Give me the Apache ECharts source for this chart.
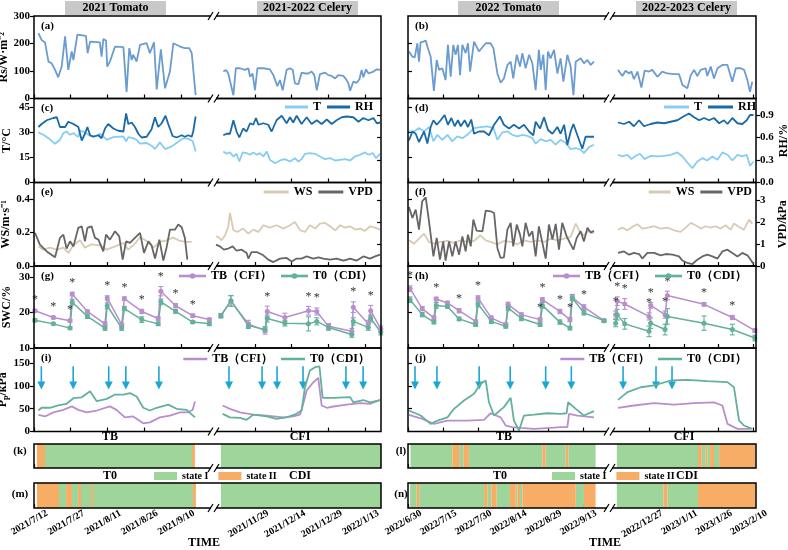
<!DOCTYPE html>
<html lang="en">
<head>
<meta charset="UTF-8">
<title>Tomato / celery: climate, SWC and Pp</title>
<style>html,body{margin:0;padding:0;background:#fff}#main{width:788px;height:550px}</style>
</head>
<body>
<div id="main"></div>
<script src="https://cdn.jsdelivr.net/npm/echarts@6/dist/echarts.min.js"></script>
<script>
// x values are days: left column counts from 2021/7/12, right column from 2022/6/30

// ---- Rs ----
var rs21Tom = [[1.8,238],[3.1,213],[4.5,204],[5.9,134],[7.2,128],[8.6,104],[9.9,77],[11.3,116],[12.7,226],[14,104],[15.4,171],[16.1,140],[17.7,232],[21.2,228],[21.9,165],[22.9,207],[26.9,204],[27.6,152],[28.3,216],[29.4,211],[29.9,116],[31,134],[33.1,189],[36.5,187],[37.8,24],[38.9,183],[39.9,140],[40.5,159],[41.9,134],[43.3,195],[46,201],[47.3,165],[49,204],[50.1,33],[51.8,179],[53.5,37],[55.5,98],[56.9,201],[59.6,189],[61.6,183],[63.4,183],[64.4,165],[65,165],[66,12]];
var rs21Cel = [[127.1,98],[128.2,104],[129.1,91],[129.8,98],[131.2,12],[132.2,110],[133.9,110],[135.9,104],[137.3,110],[138,79],[139,91],[140,30],[141,110],[143.4,110],[146.1,106],[147.5,85],[149.1,45],[150.2,67],[151.3,30],[152.9,104],[154.3,110],[155.4,104],[156.3,55],[157.7,52],[159,94],[160.4,91],[161.8,91],[163.1,98],[164.2,85],[165.2,30],[166.5,89],[168.6,94],[169.9,85],[171.3,82],[172.7,73],[174,85],[176.1,82],[177.4,67],[178.1,55],[178.8,28],[180.1,61],[181.5,57],[182.6,70],[183.5,104],[184.2,77],[185.3,106],[186.3,91],[188.3,98],[189.7,106],[191,104]];
var rs22Tom = [[0.4,171],[1.9,152],[2.9,150],[4,201],[4.7,134],[5.4,204],[6.6,207],[7.6,211],[8.3,189],[9.7,152],[11.1,28],[12.3,140],[13.3,104],[14,98],[14.7,110],[16.1,67],[17.1,195],[18.3,79],[19.4,195],[20.4,159],[21.4,195],[22.3,85],[23.3,195],[24.7,165],[25.7,201],[26.6,98],[28.3,207],[30.4,171],[33.3,201],[35.4,201],[36.6,183],[38.3,91],[39.7,57],[41.1,73],[42.6,122],[44,134],[45.1,73],[46.6,159],[48,116],[49,165],[50.4,110],[51.9,159],[53.3,128],[54.7,30],[56.1,177],[56.9,104],[58,159],[59,30],[60,171],[61.1,146],[62.6,177],[64,91],[65.4,146],[66.6,61],[68.3,159],[69.7,116],[70.9,12],[71.9,134],[74,146],[75.4,128],[76.9,140],[78.3,122],[79.7,134]];
var rs22Cel = [[166.6,104],[168.5,82],[169.9,101],[171.4,91],[172.4,98],[173.5,70],[175,98],[176.7,40],[178.1,101],[180,98],[181.4,104],[183.6,79],[185.7,98],[187.9,91],[190.8,89],[192.9,89],[194.4,49],[196.5,37],[198,85],[199.4,104],[200.8,82],[202.3,104],[204.4,110],[205.1,82],[206.6,116],[208,73],[209.5,110],[211.6,122],[213.8,122],[215.9,61],[217.4,110],[219.5,110],[221,104],[222.4,67],[223.5,24],[224.5,61]];

// ---- T and RH ----
var t21Tom = [[1.8,29.8],[3.8,28.4],[5.9,26.4],[8.6,23.1],[10.6,25.4],[12,29.4],[13.3,30.4],[14.7,28.4],[16.1,29.4],[18.1,27],[18.8,31],[20.8,29.8],[22.9,27.8],[25.6,27.8],[26.9,29],[28.3,27.4],[29.7,25.4],[32.4,27],[36.5,27.4],[37.6,24.5],[38.5,27],[40.5,26.4],[41.9,25.4],[43.3,23.1],[46,23.5],[48,21.9],[49.4,19.9],[51.4,23.9],[53.5,19.9],[56.2,21.5],[58.2,23.5],[60.3,25.8],[61.6,26.4],[63.4,25.8],[64.8,24.5],[66,18.5]];
var rh21Tom = [[1.8,.74],[3.1,.78],[5.2,.83],[7.9,.86],[9.3,.87],[10.6,.74],[12.7,.74],[14,.81],[16.1,.78],[18.1,.74],[19.5,.56],[20.8,.65],[21.8,.74],[22.9,.63],[24.2,.61],[26.3,.63],[27.6,.59],[29,.72],[30.3,.78],[32.4,.72],[34.4,.69],[36.5,.68],[37.6,.92],[38.5,.78],[39.9,.8],[41.2,.74],[42.6,.65],[43.9,.6],[46,.61],[48,.71],[49.4,.87],[50.7,.74],[52.1,.79],[53.7,.89],[54.8,.78],[56.6,.62],[58.2,.6],[60.3,.63],[61.6,.61],[63,.63],[64.4,.61],[65,.68],[66,.88]];
var t21Cel = [[127.1,18.5],[128.4,17.1],[129.8,17.9],[131.2,15.5],[132.5,17.1],[133.6,12.5],[135,17.9],[136.6,17.5],[138,16.5],[139.3,17.9],[140.7,16.5],[142,17.5],[143.4,15.5],[144.8,18.5],[146.1,13.5],[148.2,11.5],[150.2,13.1],[152.2,13.9],[154.3,12.5],[156.3,14.5],[157.7,12.5],[159,13.9],[160.4,17.1],[162.4,17.5],[164.5,17.1],[166.5,15.5],[168.6,13.9],[170.6,14.5],[172.7,13.1],[174.7,13.5],[176.7,13.9],[178.8,13.1],[180.8,15.5],[182.9,16.5],[184.9,17.9],[186.3,16.5],[188,17.5],[189.4,14.5],[191,17.1]];
var rh21Cel = [[127.1,.63],[128.4,.65],[129.8,.65],[131.2,.83],[132.5,.68],[133.6,.6],[135.2,.72],[136.6,.68],[138,.79],[139.3,.77],[140.4,.86],[141.4,.77],[143.4,.79],[145.4,.77],[146.8,.68],[148.8,.83],[150.9,.89],[152.9,.79],[154.3,.87],[155.6,.8],[157,.89],[159,.78],[161.1,.87],[163.1,.78],[165.2,.83],[167.2,.78],[169.3,.84],[171.3,.78],[173.3,.83],[175.4,.87],[177.4,.88],[180.1,.87],[182.2,.81],[184.2,.86],[186.3,.83],[188.3,.86],[189.7,.79],[191,.8]];
var t22Tom = [[0.4,30.4],[2.6,30.4],[4.7,32.4],[6.9,30.4],[9,33],[10.9,24.5],[12.6,28.4],[14.7,25.4],[16.9,28.4],[19,24.5],[21.1,27.4],[23.3,26.4],[25.4,28.4],[26.9,30.4],[28.3,32.4],[31.1,33],[34,33.4],[36.6,32.4],[38.3,25.4],[40.4,29.8],[42.6,30.4],[44.7,28.4],[46.9,27.4],[49,28.4],[51.1,27.8],[53.3,26.4],[54.7,23.1],[56.9,25.8],[59,24.5],[61.1,25.4],[63.3,22.5],[65.4,25.4],[67.6,23.5],[69.7,19.9],[71.9,20.5],[74,19.5],[75.4,17.5],[77.6,21.1],[79.7,22.5]];
var rh22Tom = [[0.4,.56],[1.9,.68],[3.3,.65],[4.7,.54],[6.9,.68],[8.3,.52],[9.7,.74],[10.9,.83],[12.3,.77],[14,.83],[15.7,.9],[17.1,.77],[18.6,.86],[20,.75],[21.4,.83],[22.6,.75],[24.3,.83],[25.7,.74],[27.1,.84],[28.3,.65],[30.4,.68],[32.6,.68],[34.7,.63],[36.9,.77],[39.4,.88],[41.1,.77],[43.3,.72],[45.4,.77],[47.6,.72],[49.7,.77],[51.9,.68],[53.7,.63],[54.7,.81],[56.6,.72],[58.3,.87],[60,.7],[61.9,.65],[64,.74],[65.4,.65],[66.9,.77],[68.3,.5],[69.7,.68],[70.9,.78],[72.6,.63],[74.7,.45],[76.1,.61],[78.3,.61],[79.7,.61]];
var t22Cel = [[166.6,16.5],[168.5,15.5],[170.7,16.5],[172.4,13.9],[174.3,15.9],[176.1,17.1],[178.1,13.9],[180.7,15.9],[183.6,15.5],[186.5,15.9],[189.3,16.5],[192.2,17.9],[194.4,15.5],[196.5,11.9],[198.7,8.5],[200.8,12.5],[203,14.5],[205.1,13.1],[207.3,15.5],[209.5,13.5],[211.6,17.9],[213.8,16.5],[215.9,13.1],[218.1,16.5],[220.2,15.5],[222.1,16.5],[223.5,9.9],[225,12.5]];
var rh22Cel = [[166.6,.8],[169.2,.78],[171.4,.81],[173.5,.75],[175.7,.83],[177.8,.75],[180.7,.78],[183.6,.8],[186.5,.79],[189.3,.81],[192.2,.83],[194.8,.88],[197.2,.92],[199.4,.87],[201.6,.83],[203.7,.86],[205.9,.83],[208,.86],[210.2,.79],[212.3,.83],[213.8,.78],[215.9,.86],[218.1,.79],[220.2,.78],[222.1,.83],[223.5,.9],[225,.9]];

// ---- WS and VPD ----
var ws21Tom = [[1.8,.118],[3.8,.098],[6.5,.11],[9.3,.098],[12,.11],[14,.078],[16.1,.124],[18.8,.154],[20.8,.11],[23.5,.13],[26.9,.124],[29.7,.098],[33.1,.118],[36.5,.138],[38.5,.098],[41.2,.134],[43.3,.174],[46,.15],[48.7,.11],[51.4,.144],[54.1,.154],[56.9,.17],[59.6,.15],[62.3,.144],[64.4,.144]];
var vpd21Tom = [[0.4,1.52],[2.4,.98],[5.2,.67],[8.6,.4],[10.6,1.29],[12,1.44],[13.3,.8],[14.7,1.13],[16.1,.9],[18.1,1.75],[19.5,1.82],[20.8,1.13],[21.8,1.75],[23.5,1.82],[24.9,1.29],[26.3,1.21],[28.3,.67],[29.4,1.44],[31,1.21],[33.1,1.59],[34.8,1.36],[36.2,.29],[37.6,1.13],[39.2,1.06],[41.2,1.29],[43.3,1.52],[44.9,.6],[46.7,1.13],[48,.95],[49.4,.34],[51.2,1.21],[52.8,.25],[54.1,.83],[55.5,1.67],[57.6,1.67],[58.9,1.9],[60.3,1.78],[61.6,1.29],[62.6,.29]];
var ws21Cel = [[124.1,.178],[125,.174],[126.4,.154],[127.8,.184],[129.1,.234],[129.8,.318],[131.2,.214],[132.8,.204],[135.2,.224],[137.3,.194],[139.3,.218],[141.4,.204],[143.4,.244],[146.1,.23],[148.8,.244],[151.6,.224],[154.3,.244],[156.3,.264],[158.4,.214],[160.4,.204],[162.4,.244],[164.5,.224],[166.5,.254],[168.6,.258],[170.6,.238],[172.7,.214],[174.7,.244],[176.7,.23],[178.8,.238],[180.8,.218],[182.9,.224],[184.9,.21],[186.9,.238],[189,.23],[191,.218]];
var vpd21Cel = [[124.1,.98],[125.7,.9],[127.3,.75],[129.1,.8],[130.9,.9],[132.5,.7],[134.6,.75],[136.6,.6],[137.3,.34],[138.6,.64],[140.7,.64],[143.4,.49],[145.4,.29],[147.5,.18],[150.2,.34],[152.9,.37],[155,.21],[157,.34],[159,.34],[161.1,.44],[163.8,.34],[165.9,.4],[167.9,.34],[170.6,.29],[173.3,.34],[176.1,.25],[178.8,.34],[181.5,.25],[184.2,.44],[186.9,.34],[189,.44],[191,.52]];
var ws22Tom = [[0.4,.154],[2.6,.134],[4.7,.164],[6.9,.194],[9,.144],[11.1,.134],[14,.144],[16.9,.15],[19.7,.138],[22.6,.154],[25.4,.144],[28.3,.15],[31.1,.184],[33.3,.154],[35.4,.144],[38.3,.13],[41.1,.15],[44,.144],[46.9,.13],[49.7,.154],[52.6,.144],[55.4,.154],[58.3,.144],[61.1,.164],[64,.154],[66.9,.164],[69.7,.174],[71.9,.254],[73.3,.214],[75.4,.184],[77.6,.214],[79.7,.194]];
var vpd22Tom = [[0.4,2.7],[1.9,2.2],[3.3,2.59],[4.7,1.67],[6.1,2.97],[7.6,3.15],[9,2.05],[10.9,.44],[12.3,1.29],[13.7,.29],[15.1,1.13],[16.1,.25],[17.6,1.13],[19,.44],[20.4,1.13],[21.9,.52],[23.3,1.36],[24.7,.67],[25.7,1.44],[26.9,.9],[28,2.13],[29.4,1.62],[31.9,1.59],[33.3,2.54],[35.4,2.51],[36.9,2.43],[38.3,.83],[39.7,.37],[41.1,.4],[42.6,1.67],[44,1.98],[45.1,.9],[46.6,1.9],[48,1.44],[49,.9],[50.4,1.98],[51.9,1.36],[53.3,1.59],[54.7,.44],[56.1,1.82],[57.6,1.06],[59,.34],[60.4,1.9],[61.9,1.21],[63.3,1.93],[64.7,.75],[66.1,1.98],[68,1.36],[69.4,1.06],[70.9,.75],[72.3,1.29],[74,1.59],[75.4,1.13],[76.9,1.75],[78.3,1.52],[79.7,1.62]];
var ws22Cel = [[166.6,.218],[168.5,.23],[170.7,.214],[172.8,.234],[175,.25],[177.1,.224],[179.3,.23],[182.2,.238],[185,.224],[187.9,.23],[190.8,.214],[193.6,.204],[195.8,.23],[198,.258],[200.1,.244],[202.3,.224],[204.4,.238],[206.6,.23],[208.7,.238],[210.9,.224],[213,.244],[215.2,.218],[216.6,.254],[218.8,.234],[220.9,.218],[223.1,.278],[224.5,.254]];
var vpd22Cel = [[166.6,.6],[169.2,.67],[171.4,.52],[173.5,.6],[175.7,.55],[177.1,.34],[179.3,.6],[182.2,.6],[185,.49],[187.2,.55],[190.1,.52],[192.9,.44],[194.4,.25],[196.5,.14],[198.7,.09],[200.8,.29],[203,.44],[205.1,.52],[207.3,.44],[209.5,.34],[211.6,.67],[213.8,.75],[215.9,.6],[218.1,.44],[220.2,.6],[222.4,.49],[223.8,.29],[225,.09]];

// ---- SWC (mean, error, significance star) ----
var swcDay21Tom = [0.4,7.9,14.7,15.6,21.8,29,29.9,35.8,36.9,44,50.7,51.8,57.8,64.8,71.6];
var swcTB21Tom = [20.5,18.6,17.7,25.2,20.3,16.8,24.1,16.6,23.9,20.3,18.3,26,21.9,19.1,18];
var errTB21Tom = [0.3,0.4,0.4,0.5,0.4,0.6,0.6,0.4,0.5,0.6,0.5,1.3,0.6,0.5,0.4];
var swcT021Tom = [17.8,16.8,15.6,22.9,18.9,15.6,21.9,15.6,21.1,18,16.8,23,20.3,17.3,16.8];
var errT021Tom = [0.4,0.3,0.4,0.8,0.6,0.6,0.8,0.6,0.6,0.8,0.5,0.8,0.5,0.4,0.5];
var star21Tom = [1,1,1,1,0,0,1,0,1,1,0,1,1,1,0];
var swcDay21Cel = [126.1,130.2,137.3,144.1,145,152.2,161.8,165.2,170,179.5,180.1,186.2,187.2,191.3];
var swcTB21Cel = [19.1,23.2,16.8,14.9,20.3,18.6,20.5,20.3,16.1,14.7,21.5,16.8,20.5,15.4];
var errTB21Cel = [0.6,1.5,1,1,1.5,1.2,1.2,1,0.8,0.8,1.5,1,1.5,0.8];
var swcT021Cel = [19.1,23.3,16.3,15.2,18.3,17,16.8,17.5,15.8,13.8,17.5,15.8,18.3,14.5];
var errT021Cel = [0.6,1.5,0.8,0.8,1,0.8,2,1,0.8,0.8,1,0.8,1,0.8];
var star21Cel = [0,0,0,0,1,0,1,1,0,0,1,0,1,0];
var swcDay22Tom = [0.9,6.1,11.1,12.1,16.9,21.9,29,30,35.7,41.9,42.9,48.6,56.6,57.6,65.1,69.4,70.4,75.4,84];
var swcTB22Tom = [26.7,21.1,18.5,23.8,22.7,20.5,17.5,24.1,18.5,16.6,22.3,19.4,18,23.6,20.3,18,24.3,21.5,17.7];
var errTB22Tom = [0.8,0.6,0.5,0.5,0.5,0.6,0.4,0.6,0.5,0.5,0.6,0.5,0.5,0.6,0.6,0.6,0.8,0.7,0.4];
var swcT022Tom = [23.6,19.4,17.3,22,21.7,18.2,16.6,22.4,17.5,16.1,21.3,18.3,16.6,22,17.3,15.6,24.1,19.9,17.7];
var errT022Tom = [0.8,0.6,0.5,0.8,0.5,0.5,0.5,0.8,0.6,0.5,0.8,0.6,0.5,0.8,0.6,0.5,0.8,0.6,0.4];
var star22Tom = [1,0,0,1,0,1,0,1,0,0,0,0,1,1,1,1,0,1,0];
var swcDay22Cel = [165.6,166.3,169.5,180,180.7,186.9,187.9,203.7,215.9,225.6];
var swcTB22Cel = [19.4,23.2,22.4,18.9,22,19.4,24.8,22.3,18.6,14.9];
var errTB22Cel = [1,1.2,1.5,1,0.8,1,1.2,0.5,0.6,0.5];
var swcT022Cel = [17,19.4,16.8,14.7,17,15.2,18.9,17,15.2,12.8];
var errT022Cel = [1,1.5,1.5,1.5,1.5,1.5,2.2,2,1.5,0.8];
var star22Cel = [1,1,1,1,1,1,1,1,1,0];

// ---- Pp ----
var pbTB21Tom = [[1.8,36.5],[4.5,33],[7.9,42],[12,47.5],[15.4,55],[18.1,47.5],[21.5,42],[25.6,46],[31,55],[33.7,47.5],[37.1,31],[40.5,33],[44.6,18],[47.3,20],[51.4,31],[55.5,35],[59.6,42],[63,42],[64.8,47.5],[65.7,66]];
var pbT021Tom = [[1.8,46],[3.1,52],[6.5,52],[9.9,57],[13.3,60.7],[16.1,73],[19.5,75],[22.9,88],[25.6,66.5],[29.7,71.6],[33.1,81],[36.5,81],[39.2,84],[41.9,76.7],[44.6,52],[47.3,46],[50.1,52],[54.8,59],[58.2,49.7],[62.3,47.5],[65.7,31]];
var pbTB21Cel = [[126.8,57],[129.8,49.7],[133.9,42],[139.3,37],[144.8,35],[151.6,31],[155.6,33],[158.4,37],[159.7,60.7],[161.1,90],[163.8,108],[165.8,117.7],[167.2,57],[169.3,52],[172,54.8],[177.4,59],[182.9,62],[186.9,60.7],[191,69]];
var pbT021Cel = [[126.8,38.7],[129.8,31],[133.9,30],[136.6,25.6],[139.3,37],[144.8,33],[148.8,27.8],[152.9,31],[157,38.7],[159,46],[160.4,97],[162.4,133.8],[164.5,141],[166.3,142.5],[167.6,73.8],[172,73.8],[178.8,75.3],[180.1,64],[184.2,69],[186.9,64],[191,69]];
var pbTB22Tom = [[0.4,36.5],[5.4,29],[11.1,16.8],[16.9,24],[25.4,24],[32.6,25.6],[35.4,40],[39.7,31],[41.9,13],[44.7,9.5],[48.3,8],[54,5.8],[61.2,8],[65.4,9.5],[68.3,9.5],[69,38.7],[72.6,35],[79.7,31]];
var pbT022Tom = [[0.4,46],[5.4,35],[9.7,16.8],[12.6,24],[16.9,31],[19.7,49.7],[24,68],[28.3,82.6],[31.1,104.5],[33.3,111.8],[34.7,64],[36.9,35],[41.1,53.4],[44,73.8],[45.4,24],[47.6,2.2],[49.7,35],[54,37],[59.7,40],[65.4,38.7],[68,40],[68.6,64],[71.9,49.7],[75.4,35],[79.7,44.6]];
var pbTB22Cel = [[166.6,52],[173.5,57],[182.2,62],[190.8,59],[199.4,62],[208,64],[211.6,57],[213.8,16.8],[218.1,5.8],[223.8,5.8]];
var pbT022Cel = [[166.6,69.4],[170.7,86.3],[176.4,97],[182.2,100.9],[189.3,111.8],[196.5,113.3],[205.1,110.4],[213.8,108.2],[216.6,97],[218.8,24],[220.9,13.2],[224.5,5.8]];

// irrigation days (arrows)
var irr21 = [3,16,30.5,37.5,51,129.4,142.9,149,159.6,177.1,184.1];
var irr22 = [3,12.4,30.5,43.8,59,70,168.8,183,189.9];

// ---- states [start, end] ----
var stI_TB21 = [[4.5,64.5],[126.1,191.4]];
var stII_TB21 = [[1.2,4.5],[64.5,65.7]];
var stI_T021 = [[10.2,13.1],[15.5,18],[19.2,23.3],[24.1,64.9],[126.1,191.4]];
var stII_T021 = [[1.2,10.2],[13.1,15.5],[18,19.2],[23.3,24.1],[64.9,66.1]];
var stI_TB22 = [[1.1,19],[21.9,23.7],[26.1,57.6],[59,67.6],[68.7,80.4],[166.1,201.1],[202.7,204.4],[205.1,206.3],[208,210.2]];
var stII_TB22 = [[19,21.9],[23.7,26.1],[57.6,59],[67.6,68.7],[201.1,202.7],[204.4,205.1],[206.3,208],[210.2,225.8]];
var stI_T022 = [[0.9,3.7],[4.8,32.6],[34,35.7],[38,43.7],[46.2,46.9],[48,49],[71.9,75.4],[166.1,186.2],[187.9,201.1]];
var stII_T022 = [[3.7,4.8],[32.6,34],[35.7,38],[43.7,46.2],[46.9,48],[49,71.9],[75.4,80.4],[186.2,187.9],[201.1,225.8]];

// ---- layout ----
var FONT = 'Liberation Serif';
var C = {rs: '#6b9ccf', t: '#86cdf3', rh: '#1a69a8', ws: '#d9cab5', vpd: '#666666', tb: '#b88fcc', t0: '#63b19a', arrow: '#1aa7d3', s1: '#9ed59b', s2: '#f8ad67'};
var cols = [
    {x0: 34, xb: 215, x1: 381, origin: [2021, 6, 12], tom: [0, 73.9], cel: [123.7, 191.4], tomTicks: [0, 15, 30, 45, 60], celTicks: [140, 155, 170, 185]},
    {x0: 408, xb: 611, x1: 756, origin: [2022, 5, 30], tom: [0, 87], cel: [163.6, 226.1], tomTicks: [0, 15, 30, 45, 60, 75], celTicks: [180, 195, 210, 225]}
];
var rows = {rs: [16, 98.5], trh: [98.5, 182.5], wv: [182.5, 266], swc: [266, 348], pb: [348, 431.5], k: [444, 468], m: [483, 508]};
var rowKeys = ['rs', 'trh', 'wv', 'swc', 'pb', 'k', 'm'];
var yDefs = {
    rs: [{min: 0, max: 300, vals: [0, 100, 200, 300], name: 'Rs/W·m⁻²'}],
    trh: [{min: 0, max: 50, vals: [0, 15, 30, 45], name: 'T/°C'}, {min: 0, max: 1.12, vals: [0, 0.3, 0.6, 0.9], dec: 1, name: 'RH/%'}],
    wv: [{min: 0, max: 0.5, vals: [0, 0.2, 0.4], dec: 1, name: 'WS/m·s⁻¹'}, {min: 0, max: 3.83, vals: [0, 1, 2, 3], name: 'VPD/kPa'}],
    swc: [{min: 10, max: 33.1, vals: [10, 20, 30], name: 'SWC/%'}],
    pb: [{min: 0, max: 183, vals: [0, 50, 100, 150], name: '{a|P}{s|p}{a|/kPa}'}],
    k: [{min: 0, max: 1}],
    m: [{min: 0, max: 1}]
};
var txt = {fontFamily: FONT, fontWeight: 'bold', color: '#000'};

function dateLabel(o) {
    return function (v) {
        var d = new Date(o[0], o[1], o[2] + Math.round(v));
        return d.getFullYear() + '/' + (d.getMonth() + 1) + '/' + d.getDate();
    };
}

var grids = [], xAxes = [], yAxes = [], series = [], graphics = [], legends = [];
var AX = [{}, {}];

function makeX(gi, c, seg, labels) {
    var ticks = seg === 'tom' ? c.tomTicks : c.celTicks;
    return {
        type: 'value', gridIndex: gi, min: c[seg][0], max: c[seg][1],
        axisLine: {show: false}, splitLine: {show: false},
        axisTick: {show: true, inside: true, length: 4, customValues: ticks, lineStyle: {color: '#000', width: 1.2}},
        axisLabel: Object.assign({show: labels, customValues: ticks, rotate: 30, margin: 12, padding: [0, -15, 0, 0],
            fontSize: 10, formatter: dateLabel(c.origin)}, txt)
    };
}

function makeY(gi, def, side, mode) {
    var inner = (def.vals || []).filter(function (v) { return v > def.min && v < def.max; });
    return {
        type: 'value', gridIndex: gi, position: side, min: def.min, max: def.max,
        show: mode !== 'none',
        name: mode === 'label' ? def.name : '', nameLocation: 'middle', nameRotate: 90, nameGap: 21,
        nameTextStyle: Object.assign({fontSize: 12, rich: {
            a: {fontFamily: FONT, fontWeight: 'bold', fontSize: 12},
            s: {fontFamily: FONT, fontWeight: 'bold', fontSize: 8, padding: [5, 0, 0, 0]}
        }}, txt),
        axisLine: {show: false}, splitLine: {show: false},
        axisTick: {show: true, inside: mode === 'inner', length: 4, customValues: mode === 'label' ? def.vals : inner, lineStyle: {color: '#000', width: 1.2}},
        axisLabel: Object.assign({show: mode === 'label', customValues: def.vals, margin: 4, fontSize: 11,
            formatter: function (v) { return def.dec ? v.toFixed(def.dec) : String(v); }}, txt)
    };
}

cols.forEach(function (c, ci) {
    rowKeys.forEach(function (rk) {
        var r = rows[rk];
        AX[ci][rk] = {};
        ['tom', 'cel'].forEach(function (seg) {
            var gi = grids.length;
            var l = seg === 'tom' ? c.x0 : c.xb, rr = seg === 'tom' ? c.xb : c.x1;
            grids.push({left: l, top: r[0], width: rr - l, height: r[1] - r[0], containLabel: false, outerBoundsMode: 'none'});
            var xi = xAxes.length;
            xAxes.push(makeX(gi, c, seg, rk === 'm'));
            var yis = [];
            yDefs[rk].forEach(function (def, k) {
                var side = k === 0 ? 'left' : 'right', mode;
                if (!def.vals) mode = 'none';
                else if (side === 'left') mode = seg === 'tom' ? (ci === 0 ? 'label' : 'inner') : 'none';
                else mode = seg === 'cel' ? (ci === 1 ? 'label' : 'inner') : 'none';
                yis.push(yAxes.length);
                yAxes.push(makeY(gi, def, side, mode));
            });
            AX[ci][rk][seg] = {x: xi, y: yis};
        });
    });
});

function line(name, ci, rk, seg, yi, data, color, w) {
    var a = AX[ci][rk][seg];
    series.push({type: 'line', name: name, xAxisIndex: a.x, yAxisIndex: a.y[yi], data: data, symbol: 'none',
        lineStyle: {color: color, width: w || 1.7}, itemStyle: {color: color}, animation: false});
}

function errItem(params, api) {
    var x = api.value(0), v = api.value(1), e = api.value(2);
    var p1 = api.coord([x, v - e]), p2 = api.coord([x, v + e]);
    var st = {stroke: api.visual('color'), lineWidth: 1.1};
    return {type: 'group', children: [
        {type: 'line', shape: {x1: p1[0], y1: p1[1], x2: p2[0], y2: p2[1]}, style: st},
        {type: 'line', shape: {x1: p1[0] - 2.5, y1: p1[1], x2: p1[0] + 2.5, y2: p1[1]}, style: st},
        {type: 'line', shape: {x1: p2[0] - 2.5, y1: p2[1], x2: p2[0] + 2.5, y2: p2[1]}, style: st}
    ]};
}

function swc(name, ci, seg, days, vals, errs, stars, color) {
    var a = AX[ci].swc[seg];
    series.push({type: 'custom', name: name + ' err', xAxisIndex: a.x, yAxisIndex: a.y[0], renderItem: errItem,
        itemStyle: {color: color}, data: days.map(function (d, i) { return [d, vals[i], errs[i]]; }), animation: false, z: 1});
    series.push({type: 'line', name: name, xAxisIndex: a.x, yAxisIndex: a.y[0], symbol: 'circle', symbolSize: 5,
        lineStyle: {color: color, width: 1.5}, itemStyle: {color: color}, animation: false, z: 3,
        label: {show: false, formatter: '*', position: 'top', color: '#333', fontSize: 12, fontFamily: FONT},
        data: days.map(function (d, i) {
            return {value: [d, vals[i]], label: {show: !!(stars && stars[i]), distance: 1 + errs[i] * 3.6}};
        })});
}

function arrowItem(params, api) {
    var x = api.value(0);
    var top = api.coord([x, 143]), tip = api.coord([x, 92]);
    var c = C.arrow;
    return {type: 'group', children: [
        {type: 'line', shape: {x1: top[0], y1: top[1], x2: tip[0], y2: tip[1] - 7}, style: {stroke: c, lineWidth: 1.6}},
        {type: 'polygon', shape: {points: [[tip[0] - 4, tip[1] - 8], [tip[0] + 4, tip[1] - 8], [tip[0], tip[1]]]}, style: {fill: c}}
    ]};
}

function stateItem(params, api) {
    var p0 = api.coord([api.value(0), 1]), p1 = api.coord([api.value(1), 0]);
    return {type: 'rect', shape: {x: p0[0], y: p0[1], width: p1[0] - p0[0], height: p1[1] - p0[1]}, style: {fill: api.visual('color')}};
}

var sets = [
    {rs: [rs21Tom, rs21Cel], t: [t21Tom, t21Cel], rh: [rh21Tom, rh21Cel], ws: [ws21Tom, ws21Cel], vpd: [vpd21Tom, vpd21Cel],
     swc: [[swcDay21Tom, swcTB21Tom, errTB21Tom, swcT021Tom, errT021Tom, star21Tom], [swcDay21Cel, swcTB21Cel, errTB21Cel, swcT021Cel, errT021Cel, star21Cel]],
     pbTB: [pbTB21Tom, pbTB21Cel], pbT0: [pbT021Tom, pbT021Cel], irr: irr21,
     k: [stI_TB21, stII_TB21], m: [stI_T021, stII_T021]},
    {rs: [rs22Tom, rs22Cel], t: [t22Tom, t22Cel], rh: [rh22Tom, rh22Cel], ws: [ws22Tom, ws22Cel], vpd: [vpd22Tom, vpd22Cel],
     swc: [[swcDay22Tom, swcTB22Tom, errTB22Tom, swcT022Tom, errT022Tom, star22Tom], [swcDay22Cel, swcTB22Cel, errTB22Cel, swcT022Cel, errT022Cel, star22Cel]],
     pbTB: [pbTB22Tom, pbTB22Cel], pbT0: [pbT022Tom, pbT022Cel], irr: irr22,
     k: [stI_TB22, stII_TB22], m: [stI_T022, stII_T022]}
];

sets.forEach(function (s, ci) {
    var c = cols[ci];
    ['tom', 'cel'].forEach(function (seg, si) {
        var inSeg = function (iv) { return seg === 'tom' ? iv[0] < 100 : iv[0] >= 100; };
        line('Rs', ci, 'rs', seg, 0, s.rs[si], C.rs, 1.8);
        line('T', ci, 'trh', seg, 0, s.t[si], C.t, 1.8);
        line('RH', ci, 'trh', seg, 1, s.rh[si], C.rh, 1.8);
        line('WS', ci, 'wv', seg, 0, s.ws[si], C.ws, 1.8);
        line('VPD', ci, 'wv', seg, 1, s.vpd[si], C.vpd, 1.8);
        var w = s.swc[si];
        swc('TB（CFI）', ci, seg, w[0], w[1], w[2], w[5], C.tb);
        swc('T0（CDI）', ci, seg, w[0], w[3], w[4], null, C.t0);
        var a = AX[ci].pb[seg];
        series.push({type: 'custom', name: 'irrigation', xAxisIndex: a.x, yAxisIndex: a.y[0], renderItem: arrowItem,
            data: s.irr.filter(function (d) { return seg === 'tom' ? d < 100 : d >= 100; }).map(function (d) { return [d]; }), animation: false});
        line('TB（CFI）', ci, 'pb', seg, 0, s.pbTB[si], C.tb, 1.8);
        line('T0（CDI）', ci, 'pb', seg, 0, s.pbT0[si], C.t0, 1.8);
        ['k', 'm'].forEach(function (rk) {
            var b = AX[ci][rk][seg];
            series.push({type: 'custom', name: 'state I', xAxisIndex: b.x, yAxisIndex: b.y[0], renderItem: stateItem,
                itemStyle: {color: C.s1}, encode: {x: [0, 1]}, data: s[rk][0].filter(inSeg), animation: false});
            series.push({type: 'custom', name: 'state II', xAxisIndex: b.x, yAxisIndex: b.y[0], renderItem: stateItem,
                itemStyle: {color: C.s2}, encode: {x: [0, 1]}, data: s[rk][1].filter(inSeg), animation: false});
        });
    });

    // frames, break marks
    rowKeys.forEach(function (rk) {
        var r = rows[rk];
        graphics.push({type: 'rect', z: 100, shape: {x: c.x0, y: r[0], width: c.x1 - c.x0, height: r[1] - r[0]},
            style: {fill: null, stroke: '#000', lineWidth: 1.5}});
    });
    [16, 98.5, 182.5, 266, 348, 431.5, 468, 508].forEach(function (yy) {
        graphics.push({type: 'rect', z: 101, shape: {x: c.xb - 4, y: yy - 2, width: 5, height: 4}, style: {fill: '#fff'}});
        graphics.push({type: 'line', z: 102, shape: {x1: c.xb - 7, y1: yy + 4, x2: c.xb - 2, y2: yy - 4}, style: {stroke: '#000', lineWidth: 1.2}});
        graphics.push({type: 'line', z: 102, shape: {x1: c.xb - 1, y1: yy + 4, x2: c.xb + 4, y2: yy - 4}, style: {stroke: '#000', lineWidth: 1.2}});
    });
});

function txtFill() { return {fontFamily: FONT, fontWeight: 'bold', fill: '#000'}; }

// column headers
[[65, '2021 Tomato'], [257, '2021-2022 Celery'], [458, '2022 Tomato'], [636, '2022-2023 Celery']].forEach(function (h) {
    graphics.push({type: 'rect', shape: {x: h[0], y: 1, width: 101, height: 14}, style: {fill: '#c8c8c8'}});
    graphics.push({type: 'text', x: h[0] + 50.5, y: 8, style: Object.assign({text: h[1], fontSize: 12, align: 'center', verticalAlign: 'middle'}, txtFill())});
});

// panel letters
var letters = [['(a)', '(c)', '(e)', '(g)', '(i)'], ['(b)', '(d)', '(f)', '(h)', '(j)']];
cols.forEach(function (c, ci) {
    ['rs', 'trh', 'wv', 'swc', 'pb'].forEach(function (rk, i) {
        graphics.push({type: 'text', z: 103, x: c.x0 + 7, y: rows[rk][0] + 10,
            style: Object.assign({text: letters[ci][i], fontSize: 11, verticalAlign: 'middle'}, txtFill())});
    });
});
[['(k)', 20, 451], ['(m)', 20, 494], ['(l)', 401, 451], ['(n)', 401, 494]].forEach(function (t) {
    graphics.push({type: 'text', x: t[1], y: t[2], style: Object.assign({text: t[0], fontSize: 11, align: 'center', verticalAlign: 'middle'}, txtFill())});
});
[['TB', 110, 437], ['CFI', 300, 437], ['T0', 110, 476], ['CDI', 300, 476],
 ['TB', 504, 437], ['CFI', 684, 437], ['T0', 500, 476], ['CDI', 687, 476],
 ['TIME', 204, 543], ['TIME', 605, 543]].forEach(function (t) {
    graphics.push({type: 'text', x: t[1], y: t[2], style: Object.assign({text: t[0], fontSize: 12, align: 'center', verticalAlign: 'middle'}, txtFill())});
});

// legends
var lgText = {fontFamily: FONT, fontWeight: 'bold', fontSize: 12, color: '#000'};
function lg(data, right, top, extra) {
    legends.push(Object.assign({data: data, right: right, top: top, itemWidth: 23, itemHeight: 3, itemGap: 6,
        selectedMode: false, textStyle: lgText, padding: 0}, extra || {}));
}
function bars(names) { return names.map(function (n) { return {name: n, icon: 'rect'}; }); }
lg(bars(['T', 'RH']), 415, 101);
lg(bars(['T', 'RH']), 32, 101, {itemWidth: 25});
lg(bars(['WS', 'VPD']), 415, 186, {itemWidth: 25});
lg(bars(['WS', 'VPD']), 36, 186, {itemWidth: 22});
lg(['TB（CFI）', 'T0（CDI）'], 415, 270, {itemWidth: 27, itemHeight: 7, itemGap: 8, lineStyle: {width: 2.6}});
lg(['TB（CFI）', 'T0（CDI）'], 41, 270, {itemWidth: 27, itemHeight: 7, itemGap: 8, lineStyle: {width: 2.6}});
lg(bars(['TB（CFI）', 'T0（CDI）']), 418, 353, {itemHeight: 2.5, itemWidth: 24, itemGap: 8});
lg(bars(['TB（CFI）', 'T0（CDI）']), 41, 353, {itemHeight: 2.5, itemWidth: 24, itemGap: 8});
var stText = {fontFamily: FONT, fontWeight: 'bold', fontSize: 10, color: '#000'};
lg(bars(['state I', 'state II']), null, 471, {left: 154, itemHeight: 8, itemGap: 10, textStyle: stText});
lg(bars(['state I', 'state II']), null, 471, {left: 552, itemHeight: 8, itemGap: 10, textStyle: stText});

var chart = echarts.init(document.getElementById('main'));
chart.setOption({
    backgroundColor: '#fff',
    animation: false,
    grid: grids,
    xAxis: xAxes,
    yAxis: yAxes,
    legend: legends,
    series: series,
    graphic: graphics
});
</script>
</body>
</html>
